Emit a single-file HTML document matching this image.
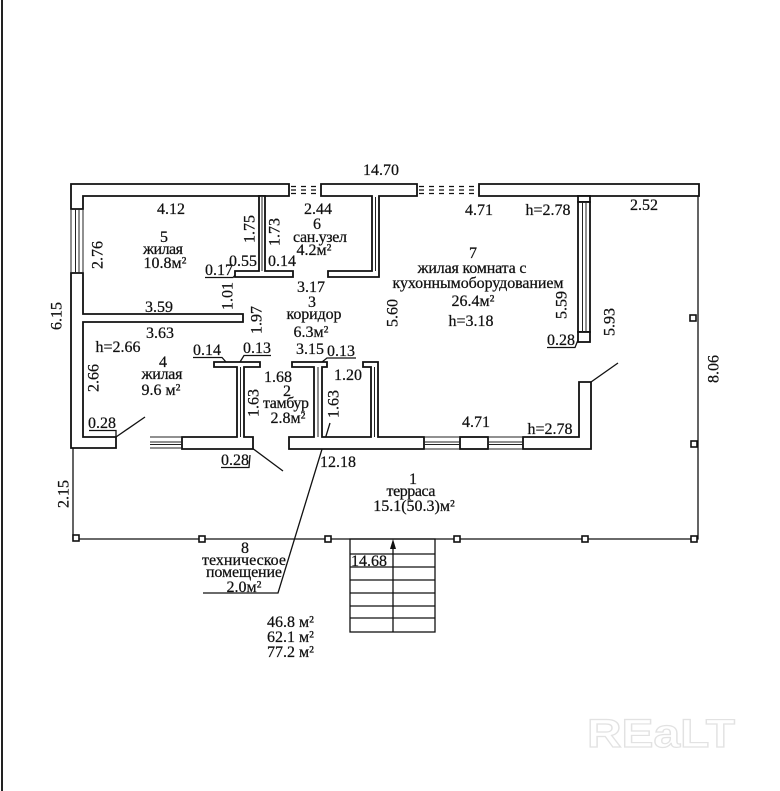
<!DOCTYPE html>
<html><head><meta charset="utf-8">
<style>
html,body{margin:0;padding:0;background:#fff;}
svg{display:block;}
text{font-family:"Liberation Serif","DejaVu Serif",serif;font-size:16px;fill:#111;stroke:#111;stroke-width:0.25px;}
</style></head><body>
<svg width="780" height="791" viewBox="0 0 780 791" xmlns="http://www.w3.org/2000/svg">
<rect width="780" height="791" fill="#fff"/>
<line x1="2" y1="0" x2="2" y2="791" stroke="#222" stroke-width="2"/>

<!-- watermark -->
<text x="587" y="747" style="font-family:'Liberation Sans',sans-serif;font-size:40px;font-weight:bold;fill:none;stroke:#e2e2e2;stroke-width:1.2px;" textLength="148" lengthAdjust="spacingAndGlyphs">REaLT</text>

<!-- terrace thin lines -->
<g fill="none" stroke="#111" stroke-width="1.3">
  <polyline points="73,448 73,539 698,539 698,196"/>
  <!-- stairs -->
  <rect x="350" y="539" width="85" height="93"/>
  <line x1="350" y1="554" x2="435" y2="554"/>
  <line x1="350" y1="567" x2="435" y2="567"/>
  <line x1="350" y1="580" x2="435" y2="580"/>
  <line x1="350" y1="593" x2="435" y2="593"/>
  <line x1="350" y1="606" x2="435" y2="606"/>
  <line x1="350" y1="618" x2="435" y2="618"/>
  <line x1="393" y1="545" x2="393" y2="632"/>
  <!-- door swings / leaders -->
  <line x1="116" y1="437" x2="145" y2="417"/>
  <line x1="252" y1="448" x2="283" y2="471"/>
  <line x1="591" y1="382" x2="618" y2="363"/>
  <polyline points="203,593 278,593 330,423"/>
  <!-- underlines -->
  <polyline points="205,277.5 233,277.5 237,273"/>
  <polyline points="193,357.5 222,357.5 226,362"/>
  <polyline points="240,362 244,355.5 271,355.5"/>
  <polyline points="322,362 327,358 356,358"/>
  <polyline points="547,347.5 575,347.5 578,340"/>
  <polyline points="89,430.5 116,430.5 116,437"/>
  <polyline points="221,467.5 249,467.5 250,455"/>
</g>
<polygon points="393,539 390,549 396,549" fill="#111"/>

<!-- columns -->
<g fill="#fff" stroke="#111" stroke-width="1.6">
  <rect x="73" y="535" width="6" height="6"/>
  <rect x="199" y="536" width="6" height="6"/>
  <rect x="325" y="536" width="6" height="6"/>
  <rect x="454" y="536" width="6" height="6"/>
  <rect x="582" y="536" width="6" height="6"/>
  <rect x="691" y="536" width="6" height="6"/>
  <rect x="691" y="441" width="6" height="6"/>
  <rect x="690" y="315" width="6" height="6"/>
</g>

<!-- walls -->
<g fill="#fff" stroke="#111" stroke-width="1.8" stroke-linejoin="miter">
  <path d="M71,209 V184 H289 V196 H83 V209 Z"/>
  <path d="M71,273 H83 V314 H243 V322 H83 V437 H116 V448 H71 Z"/>
  <path d="M259,196 H265 V271 H293 V277 H235 V271 H259 Z"/>
  <path d="M321,184 H417 V196 H379 V277 H328 V271 H372 V196 H321 Z"/>
  <path d="M479,184 H699 V196 H479 Z"/>
  <rect x="578" y="196" width="12" height="6"/>
  <rect x="578" y="202" width="12" height="130"/>
  <rect x="578" y="332" width="12" height="10"/>
  <path d="M182,437 H237 V367 H214 V362 H260 V367 H244 V437 H253 V449 H182 Z"/>
  <path d="M289,437 H314 V367 H292 V362 H327 V367 H322 V437 H371 V367 H363 V362 H378 V437 H424 V449 H289 Z"/>
  <rect x="460" y="437" width="28" height="12"/>
  <path d="M523,437 H579 V382 H591 V449 H523 Z"/>
</g>

<!-- inner wall lines / windows -->
<g fill="none" stroke="#222" stroke-width="1">
  <line x1="582.5" y1="202" x2="582.5" y2="332"/>
  <line x1="586" y1="202" x2="586" y2="332"/>
  <line x1="262" y1="197" x2="262" y2="271"/>
  <line x1="375.5" y1="197" x2="375.5" y2="271"/>
  <line x1="240.5" y1="367" x2="240.5" y2="437"/>
  <line x1="318" y1="367" x2="318" y2="437"/>
  <line x1="374.5" y1="367" x2="374.5" y2="437"/>
  <!-- left window -->
  <line x1="71" y1="209" x2="71" y2="273"/>
  <line x1="75.5" y1="209" x2="75.5" y2="273"/>
  <line x1="79" y1="209" x2="79" y2="273"/>
  <line x1="83" y1="209" x2="83" y2="273"/>
  <!-- bottom windows -->
  <line x1="150" y1="437" x2="182" y2="437"/>
  <line x1="150" y1="442" x2="182" y2="442"/>
  <line x1="150" y1="444.5" x2="182" y2="444.5"/>
  <line x1="150" y1="448" x2="182" y2="448"/>
  <line x1="424" y1="437" x2="460" y2="437"/>
  <line x1="424" y1="442" x2="460" y2="442"/>
  <line x1="424" y1="444.5" x2="460" y2="444.5"/>
  <line x1="424" y1="449" x2="460" y2="449"/>
  <line x1="488" y1="437" x2="523" y2="437"/>
  <line x1="488" y1="442" x2="523" y2="442"/>
  <line x1="488" y1="444.5" x2="523" y2="444.5"/>
  <line x1="488" y1="449" x2="523" y2="449"/>
</g>
<!-- top dashed windows -->
<g fill="none" stroke="#111" stroke-width="1.3" stroke-dasharray="5,5">
  <line x1="291" y1="186.5" x2="321" y2="186.5"/>
  <line x1="291" y1="190" x2="321" y2="190"/>
  <line x1="291" y1="193.5" x2="321" y2="193.5"/>
  <line x1="419" y1="186.5" x2="479" y2="186.5"/>
  <line x1="419" y1="190" x2="479" y2="190"/>
  <line x1="419" y1="193.5" x2="479" y2="193.5"/>
</g>

<!-- horizontal labels -->
<g text-anchor="middle">
  <text x="381" y="175">14.70</text>
  <text x="171" y="214">4.12</text>
  <text x="318" y="214">2.44</text>
  <text x="317" y="229">6</text>
  <text x="320" y="242" textLength="54">сан.узел</text>
  <text x="314" y="255">4.2м²</text>
  <text x="164" y="242">5</text>
  <text x="163" y="254" textLength="40">жилая</text>
  <text x="165" y="268">10.8м²</text>
  <text x="243" y="266">0.55</text>
  <text x="282" y="266">0.14</text>
  <text x="219" y="275">0.17</text>
  <text x="311" y="292">3.17</text>
  <text x="312" y="307">3</text>
  <text x="314" y="319" textLength="55">коридор</text>
  <text x="311" y="337">6.3м²</text>
  <text x="159" y="312">3.59</text>
  <text x="160" y="338">3.63</text>
  <text x="118" y="352">h=2.66</text>
  <text x="207" y="355">0.14</text>
  <text x="257" y="353">0.13</text>
  <text x="310" y="354">3.15</text>
  <text x="341" y="356">0.13</text>
  <text x="479" y="215">4.71</text>
  <text x="548" y="215">h=2.78</text>
  <text x="644" y="210">2.52</text>
  <text x="473" y="258">7</text>
  <text x="472" y="273" textLength="109">жилая комната с</text>
  <text x="478" y="288" textLength="171">кухоннымоборудованием</text>
  <text x="473" y="306">26.4м²</text>
  <text x="471" y="326">h=3.18</text>
  <text x="561" y="345">0.28</text>
  <text x="163" y="367">4</text>
  <text x="162" y="379" textLength="41">жилая</text>
  <text x="161" y="395">9.6 м²</text>
  <text x="102" y="428">0.28</text>
  <text x="278" y="382">1.68</text>
  <text x="287" y="396">2</text>
  <text x="286" y="408" textLength="46">тамбур</text>
  <text x="288" y="423">2.8м²</text>
  <text x="348" y="380">1.20</text>
  <text x="476" y="427">4.71</text>
  <text x="550" y="434">h=2.78</text>
  <text x="235" y="465">0.28</text>
  <text x="338" y="467">12.18</text>
  <text x="413" y="484">1</text>
  <text x="411" y="496" textLength="49">терраса</text>
  <text x="414" y="511">15.1(50.3)м²</text>
  <text x="245" y="553">8</text>
  <text x="244" y="565" textLength="84">техническое</text>
  <text x="244" y="577" textLength="76">помещение</text>
  <text x="244" y="592">2.0м²</text>
  <text x="369" y="566">14.68</text>
</g>
<text x="267" y="627">46.8 м²</text>
<text x="267" y="642">62.1 м²</text>
<text x="267" y="657">77.2 м²</text>

<!-- rotated labels -->
<g text-anchor="middle">
  <text transform="translate(97,255) rotate(-90)" x="0" y="5.3">2.76</text>
  <text transform="translate(249,229) rotate(-90)" x="0" y="5.3">1.75</text>
  <text transform="translate(274,232) rotate(-90)" x="0" y="5.3">1.73</text>
  <text transform="translate(56,316) rotate(-90)" x="0" y="5.3">6.15</text>
  <text transform="translate(227,296) rotate(-90)" x="0" y="5.3">1.01</text>
  <text transform="translate(256,320) rotate(-90)" x="0" y="5.3">1.97</text>
  <text transform="translate(392,313) rotate(-90)" x="0" y="5.3">5.60</text>
  <text transform="translate(561,305) rotate(-90)" x="0" y="5.3">5.59</text>
  <text transform="translate(609,322) rotate(-90)" x="0" y="5.3">5.93</text>
  <text transform="translate(713,369) rotate(-90)" x="0" y="5.3">8.06</text>
  <text transform="translate(93,378) rotate(-90)" x="0" y="5.3">2.66</text>
  <text transform="translate(253,403) rotate(-90)" x="0" y="5.3">1.63</text>
  <text transform="translate(333,404) rotate(-90)" x="0" y="5.3">1.63</text>
  <text transform="translate(63,494) rotate(-90)" x="0" y="5.3">2.15</text>
</g>
</svg>
</body></html>
